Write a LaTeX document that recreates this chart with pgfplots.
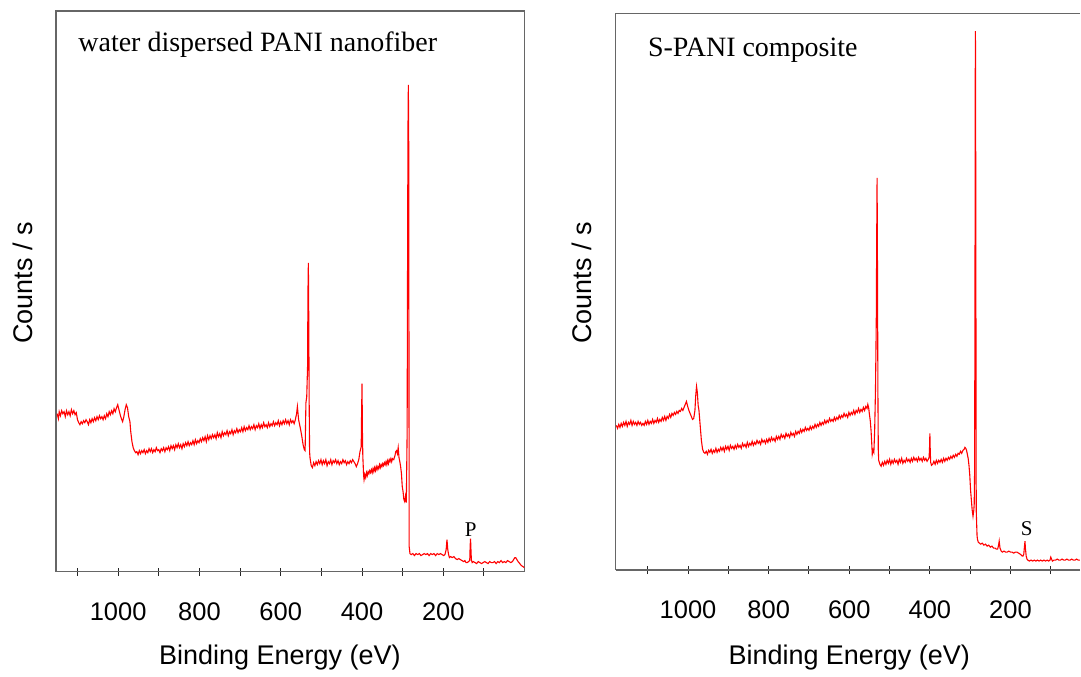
\documentclass[border=0pt]{standalone}
\usepackage{pgfplots}
\pgfplotsset{compat=1.18}
\usepackage{pgfplotstable}
\usepackage{fontspec}
\setmainfont{Liberation Sans}
\newfontfamily\seriffont{Liberation Serif}

\pgfplotstableread{
E h
1150 158
1147 153
1145 160
1142 156
1139 161
1136 158
1133 160
1130 155
1127 161
1124 157
1121 160
1118 156
1115 162
1112 158
1109 161
1106 157
1103 159
1100 152
1097 149
1094 147
1091 150
1088 148
1085 151
1082 149
1079 152
1076 150
1073 147
1070 152
1067 149
1064 153
1061 150
1058 154
1055 151
1052 155
1049 152
1046 156
1043 153
1040 155
1037 152
1034 156
1031 153
1028 158
1025 155
1022 160
1019 157
1016 161
1013 158
1010 163
1007 160
1004 164
1001 167
998 162
995 157
992 153
989 150
986 155
983 162
980 167
977 164
974 155
971 150
969 140
966 130
963 124
960 121
957 119
954 120
951 117
948 121
945 118
942 121
939 119
936 122
933 118
930 121
927 119
924 123
921 120
918 123
915 119
912 122
909 120
906 124
903 121
900 122
897 119
894 123
891 121
888 124
885 120
882 124
879 122
876 125
873 121
870 126
867 123
864 126
861 122
858 127
855 124
852 128
849 124
846 127
843 123
840 128
837 125
834 129
831 126
828 130
825 126
822 129
819 127
816 131
813 127
810 132
807 128
804 131
801 129
798 133
795 130
792 134
789 131
786 135
783 130
780 136
777 132
774 136
771 133
768 137
765 134
762 137
759 133
756 139
753 135
750 138
747 134
744 140
741 136
738 139
735 137
732 141
729 136
726 140
723 138
720 142
717 137
714 141
711 139
708 143
705 139
702 142
699 140
696 144
693 140
690 145
687 141
684 144
681 142
678 146
675 142
672 145
669 143
666 147
663 142
660 146
657 144
654 148
651 143
648 147
645 144
642 149
639 145
636 147
633 144
630 149
627 145
624 148
621 146
618 150
615 146
612 149
609 147
606 151
603 146
600 150
597 147
594 151
591 148
588 152
585 148
582 151
579 147
576 152
573 149
570 151
567 148
564 152
561 158
559 165
556 152
553 146
551 142
548 135
545 127
542 122
540 121
538 169
536 175
534 205
533 280
532 309
531 250
530 169
529 120
528 114
525 106
522 104
519 109
516 106
513 110
510 107
507 111
504 108
501 112
498 107
495 111
492 108
489 112
486 106
483 110
480 108
477 112
474 107
471 111
468 109
465 112
462 108
459 111
456 107
453 110
450 108
447 112
444 109
441 111
438 107
435 110
432 108
429 111
426 109
423 112
420 110
417 108
414 105
411 108
408 112
405 120
402 125
401 160
400 188
399 140
398 115
396 96
395 92
393 97
391 94
389 99
387 96
385 100
383 98
381 101
379 99
377 102
375 99
373 103
371 100
369 104
367 101
365 105
363 102
361 105
359 103
357 107
355 104
353 107
351 105
349 108
347 106
345 109
343 107
341 110
339 107
337 111
335 108
333 112
331 110
329 113
327 110
325 113
322 112
319 116
317 120
315 121
313 118
311 124
309 114
307 110
305 105
303 98
301 85
299 80
297 72
295 70
293 75
292 79
291 69
289 140
288 300
287 440
286 487
285 420
284 25
282 18
279 17
275 18
271 16
267 18
263 17
259 18
255 16
251 17
247 18
243 17
239 18
235 16
231 18
227 17
223 18
219 16
215 18
211 17
207 18
203 17
199 16
196 17
193 22
191 32
189 22
187 17
185 14
182 15
178 14
174 15
170 13
166 12
162 13
158 12
154 11
150 10
147 11
144 9
141 9
138 10
135 11
134 25
133 33
132 22
131 12
129 9
126 10
122 9
118 8
114 10
110 9
106 8
102 9
98 10
94 9
90 8
86 10
82 9
78 9
74 10
70 8
66 10
62 9
58 11
54 9
50 10
46 9
42 11
38 10
34 9
30 10
27 12
24 14
22 14
19 12
16 10
12 8
8 6
4 5
1 4
}\leftdata

\pgfplotstableread{
E h
1178 145
1175 142
1172 146
1169 143
1166 147
1163 144
1160 148
1157 145
1154 149
1151 144
1148 148
1145 146
1142 150
1139 145
1136 149
1133 146
1130 148
1127 145
1124 149
1121 146
1118 148
1115 145
1112 147
1109 145
1106 149
1103 146
1100 150
1097 146
1094 149
1091 147
1088 151
1085 147
1082 150
1079 148
1076 152
1073 148
1070 151
1067 149
1064 153
1061 150
1058 154
1055 150
1052 154
1049 152
1046 156
1043 153
1040 157
1037 155
1034 158
1031 156
1028 159
1025 157
1022 160
1019 159
1016 162
1013 160
1010 163
1007 166
1004 169
1001 164
998 160
995 157
992 154
989 151
986 152
983 160
981 175
979 184
977 178
975 165
973 160
970 145
967 130
964 121
961 118
958 117
955 119
952 116
949 120
946 118
943 121
940 117
937 120
934 118
931 122
928 118
925 121
922 119
919 123
916 120
913 123
910 119
907 124
904 121
901 124
898 120
895 125
892 122
889 124
886 121
883 125
880 122
877 126
874 123
871 125
868 122
865 127
862 124
859 126
856 123
853 128
850 124
847 127
844 125
841 129
838 125
835 128
832 126
829 130
826 127
823 129
820 126
817 131
814 128
811 130
808 127
805 131
802 128
799 132
796 129
793 133
790 130
787 132
784 129
781 134
778 131
775 134
772 131
769 136
766 133
763 135
760 132
757 137
754 134
751 136
748 133
745 138
742 135
739 137
736 134
733 139
730 136
727 139
724 137
721 141
718 138
715 141
712 139
709 143
706 140
703 142
700 140
697 144
694 141
691 144
688 142
685 146
682 143
679 146
676 144
673 148
670 145
667 148
664 146
661 150
658 147
655 150
652 148
649 152
646 149
643 151
640 149
637 153
634 150
631 153
628 151
625 155
622 152
619 155
616 153
613 157
610 154
607 156
604 153
601 158
598 155
595 158
592 156
589 160
586 156
583 160
580 158
577 162
574 158
571 161
568 159
565 163
562 160
559 164
556 162
554 166
552 163
550 156
548 150
546 140
544 125
543 116
541 120
539 118
537 140
535 180
533 250
532 330
531 393
530 300
529 180
528 120
527 110
524 106
521 104
518 108
515 105
512 109
509 106
506 110
503 107
500 111
497 106
494 110
491 107
488 111
485 108
482 110
479 106
476 111
473 108
470 112
467 107
464 110
461 108
458 112
455 109
452 111
449 108
446 112
443 109
440 113
437 110
434 112
431 109
428 113
425 110
422 112
419 109
416 113
413 110
410 112
407 109
404 111
402 113
401 120
400 137
399 118
398 108
396 105
393 106
390 109
387 106
384 110
381 107
378 110
375 108
372 111
369 108
366 112
363 109
360 112
357 110
354 113
351 111
348 114
345 112
342 115
339 113
336 116
333 114
330 117
327 116
324 119
321 117
318 120
315 121
313 123
311 122
309 120
307 116
305 112
303 105
301 95
299 80
297 70
295 60
293 54
291 60
290 66
289 100
288 300
287.5 480
287 540
286.5 470
285.5 200
285 60
283 35
282 31
280 28
277 27
274 26
270 27
266 25
262 26
258 24
254 25
250 23
246 24
242 22
238 22
235 21
232 21
230 24
228 29
226 22
223 19
220 18
216 19
212 18
208 18
204 19
200 18
196 18
192 17
188 18
184 18
180 17
176 16
173 15
171 14
169 14
167 16
165 25
164 29
163 22
161 14
159 11
157 10
153 9
149 10
145 9
141 10
137 9
133 10
129 9
125 10
121 9
117 10
113 9
109 10
105 9
102 10
100 13
98 11
96 9
92 10
88 10
84 11
80 10
76 10
72 11
68 10
64 10
60 11
56 10
52 10
48 11
44 10
40 10
36 11
32 10
28 10
}\rightdata

\pgfplotsset{
  xpsaxis/.style={
    scale only axis,
    anchor=south west,
    x dir=reverse,
    ymin=0,
    xtick={100,200,...,1100},
    xticklabels={,200,,400,,600,,800,,1000,},
    ytick=\empty,
    xtick pos=bottom,
    xtick align=center,
    major tick length=4pt,
    tick style={black!85, line width=0.5pt},
    axis line style={black!60, line width=0.8pt},
    /pgf/number format/assume math mode=true,
    x tick label style={font=\fontsize{12.75}{14}\selectfont, anchor=base, yshift=-22.35pt},
    xlabel={Binding Energy (eV)},
    ylabel={Counts / s},
    label style={font=\fontsize{13.5}{15}\selectfont},
  }
}

\begin{document}
\begin{tikzpicture}
\begin{axis}[xpsaxis,
  at={(28pt,49pt)},
  width=234.5pt, height=280.5pt,
  xmin=0, xmax=1153, ymax=561,
  xlabel style={at={(axis description cs:0.478,-0.166)}, anchor=base},
  ylabel style={at={(axis description cs:-0.0714,0.515)}, anchor=center},
]
\addplot[red, line width=0.55pt] table[x=E, y=h] {\leftdata};
\node[anchor=base west, inner sep=0pt, font=\seriffont\fontsize{14}{16}\selectfont] at (axis description cs:0.047,0.927) {water dispersed PANI nanofiber};
\node[anchor=base, inner sep=0pt, font=\seriffont\fontsize{10.5}{12}\selectfont] at (axis cs:132.6,35.3) {P};
\end{axis}

\begin{axis}[xpsaxis,
  at={(308pt,49.75pt)},
  width=232.5pt, height=278.6pt,
  xmin=27, xmax=1180, ymax=558,
  axis lines*=left,
  xlabel style={at={(axis description cs:0.503,-0.1696)}, anchor=base},
  ylabel style={at={(axis description cs:-0.0731,0.516)}, anchor=center},
]
\addplot[red, line width=0.55pt] table[x=E, y=h] {\rightdata};
\draw[black!60, line width=0.8pt] (rel axis cs:0,1) -- (rel axis cs:1,1);
\node[anchor=base west, inner sep=0pt, font=\seriffont\fontsize{14}{16}\selectfont] at (axis description cs:0.069,0.923) {S-PANI composite};
\node[anchor=base, inner sep=0pt, font=\seriffont\fontsize{10.5}{12}\selectfont] at (axis cs:160,34.3) {S};
\end{axis}
\useasboundingbox (0pt,0pt) rectangle (540.5pt,335pt);
\end{tikzpicture}
\end{document}
